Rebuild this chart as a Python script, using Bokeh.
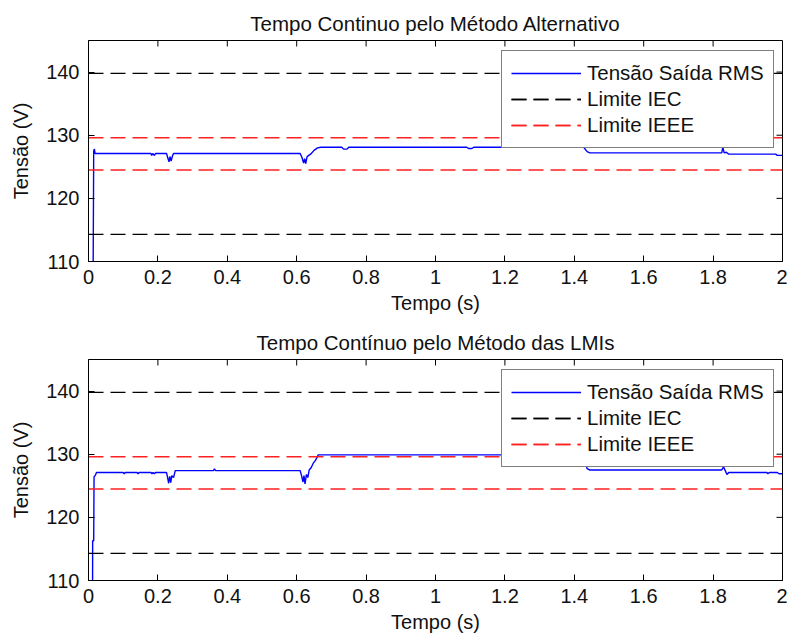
import math
from bokeh.plotting import figure
from bokeh.models import (Range1d, FixedTicker, Legend, LegendItem, ColumnDataSource)
from bokeh.layouts import column
from bokeh.embed import file_html
from bokeh.resources import INLINE

# ---------------- data ----------------
titles = ["Tempo Continuo pelo Método Alternativo",
          "Tempo Contínuo pelo Método das LMIs"]
series_name = "Tensão Saída RMS"
iec_name = "Limite IEC"
ieee_name = "Limite IEEE"

iec_limits = [114.3, 139.8]
ieee_limits = [124.5, 129.6]

t_alt = [0.0130, 0.0135, 0.0150, 0.0170, 0.0190, 0.180, 0.182, 0.185, 0.190,
         0.193, 0.225, 0.228, 0.232, 0.235, 0.238, 0.242, 0.245, 0.610, 0.615,
         0.620, 0.623, 0.626, 0.630, 0.640, 0.650, 0.660, 0.670, 0.730, 0.735,
         0.745, 0.750, 1.090, 1.095, 1.105, 1.110, 1.427, 1.437, 1.445, 1.825,
         1.828, 1.832, 1.838, 1.845, 1.980, 1.985, 2.000]
v_alt = [100.0, 110.0, 127.5, 127.8, 127.1, 127.1, 126.8, 127.1, 126.8,
         127.1, 127.1, 126.5, 125.8, 126.6, 125.9, 126.7, 127.1, 127.1, 126.5,
         125.6, 126.3, 125.5, 126.6, 127.0, 127.6, 128.0, 128.1, 128.1, 127.8,
         127.8, 128.1, 128.1, 127.9, 127.9, 128.1, 128.1, 127.4, 127.2, 127.2,
         128.1, 127.2, 127.3, 127.0, 127.0, 126.8, 126.8]

t_lmi = [0.0115, 0.0120, 0.0150, 0.0160, 0.0200, 0.0230, 0.100, 0.103, 0.106,
         0.140, 0.143, 0.146, 0.180, 0.183, 0.186, 0.190, 0.193, 0.225, 0.228,
         0.231, 0.234, 0.237, 0.240, 0.245, 0.250, 0.360, 0.363, 0.366, 0.610,
         0.614, 0.618, 0.621, 0.624, 0.628, 0.632, 0.636, 0.642, 0.648, 0.655,
         0.662, 0.670, 1.427, 1.437, 1.445, 1.825, 1.830, 1.835, 1.840, 1.845,
         1.955, 1.958, 1.962, 1.985, 1.990, 2.000]
v_lmi = [100.0, 116.3, 116.3, 126.4, 126.7, 127.1, 127.1, 126.9, 127.1,
         127.1, 126.9, 127.1, 127.1, 126.9, 127.1, 126.9, 127.1, 127.1, 126.3,
         125.4, 126.5, 125.5, 126.6, 126.3, 127.4, 127.4, 127.7, 127.4, 127.4,
         126.6, 125.6, 126.6, 125.3, 126.8, 126.3, 127.5, 127.9, 128.6, 129.1,
         129.9, 129.9, 129.9, 127.7, 127.5, 127.5, 128.0, 127.4, 126.8, 127.1,
         127.1, 126.9, 127.1, 127.1, 126.9, 126.9]

x_ticks = [0, 0.2, 0.4, 0.6, 0.8, 1.0, 1.2, 1.4, 1.6, 1.8, 2.0]
x_tick_labels = ["0", "0.2", "0.4", "0.6", "0.8", "1", "1.2", "1.4", "1.6", "1.8", "2"]
y_ticks = [110, 120, 130, 140]
y_tick_labels = ["110", "120", "130", "140"]

X_MIN, X_MAX = 0, 2
Y_MIN, Y_MAX = 110, 145

FONT = "Liberation Sans"
FS = "20px"
FS_BIG = "20.5px"
DASH = "15 7"
TXT = "#111111"


def style_axis(ax):
    ax.axis_line_color = "black"
    ax.axis_line_width = 1
    ax.major_tick_in = 6
    ax.major_tick_out = 0
    ax.minor_tick_in = 0
    ax.minor_tick_out = 0
    ax.major_tick_line_color = "black"
    ax.major_label_text_font = FONT
    ax.major_label_text_font_size = FS
    ax.major_label_text_color = TXT
    ax.axis_label_text_font = FONT
    ax.axis_label_text_font_size = FS
    ax.axis_label_text_font_style = "normal"
    ax.axis_label_text_color = TXT


def make_panel(title, t, v, height, top):
    p = figure(width=787, height=height, output_backend="svg", toolbar_location=None,
               x_range=Range1d(X_MIN, X_MAX), y_range=Range1d(Y_MIN, Y_MAX),
               min_border_left=88, min_border_right=5, min_border_top=top,
               min_border_bottom=height - top - 221)
    p.title.text = title
    p.title.text_font = FONT
    p.title.text_font_size = FS_BIG
    p.title.text_font_style = "normal"
    p.title.align = "center"
    p.title.vertical_align = "top"
    p.title.text_color = TXT
    p.title.standoff = 8
    p.grid.visible = False
    p.outline_line_color = "black"
    p.outline_line_width = 1
    p.background_fill_color = "white"
    p.border_fill_color = "white"

    xa = p.xaxis[0]
    ya = p.yaxis[0]
    xa.ticker = FixedTicker(ticks=x_ticks)
    ya.ticker = FixedTicker(ticks=y_ticks)
    xa.major_label_overrides = dict(zip(x_ticks, x_tick_labels))
    ya.major_label_overrides = dict(zip(y_ticks, y_tick_labels))
    xa.axis_label = "Tempo (s)"
    ya.axis_label = "Tensão (V)"
    style_axis(xa)
    style_axis(ya)
    xa.major_label_standoff = 8
    ya.major_label_standoff = 9
    xa.axis_label_standoff = 5
    ya.axis_label_standoff = 11

    # tick marks on the top and right edges of the box (no labels)
    p.ray(x=x_ticks, y=[Y_MAX] * len(x_ticks), length=6, length_units="screen",
          angle=-math.pi / 2, line_color="black", line_width=1)
    p.ray(x=[X_MAX] * len(y_ticks), y=y_ticks, length=6, length_units="screen",
          angle=math.pi, line_color="black", line_width=1)

    src = ColumnDataSource(dict(t=t, v=v))
    r_blue = p.line("t", "v", source=src, line_color="#0000FF", line_width=1.4)

    iec_src = [ColumnDataSource(dict(t=[X_MIN, X_MAX], v=[lv, lv])) for lv in iec_limits]
    ieee_src = [ColumnDataSource(dict(t=[X_MIN, X_MAX], v=[lv, lv])) for lv in ieee_limits]
    r_iec = [p.line("t", "v", source=s, line_color="black", line_width=1.3,
                    line_dash=DASH) for s in iec_src]
    r_ieee = [p.line("t", "v", source=s, line_color="#FF2020", line_width=1.5,
                     line_dash=DASH) for s in ieee_src]

    legend = Legend(items=[
        LegendItem(label=series_name, renderers=[r_blue]),
        LegendItem(label=iec_name, renderers=r_iec),
        LegendItem(label=ieee_name, renderers=r_ieee),
    ])
    legend.location = (413, 113)
    legend.orientation = "vertical"
    legend.border_line_color = "black"
    legend.border_line_width = 1
    legend.background_fill_color = "white"
    legend.background_fill_alpha = 1.0
    legend.label_text_font = FONT
    legend.label_text_font_size = FS_BIG
    legend.label_text_color = TXT
    legend.glyph_width = 70
    legend.glyph_height = 26
    legend.label_height = 26
    legend.label_standoff = 6
    legend.padding = 9
    legend.spacing = 0
    legend.margin = 0
    p.add_layout(legend, "center")
    return p


p1 = make_panel(titles[0], t_alt, v_alt, 320, 40)
p2 = make_panel(titles[1], t_lmi, v_lmi, 319, 39)

layout = column(p1, p2, spacing=0)
open("out.html", "w").write(file_html(layout, INLINE))
